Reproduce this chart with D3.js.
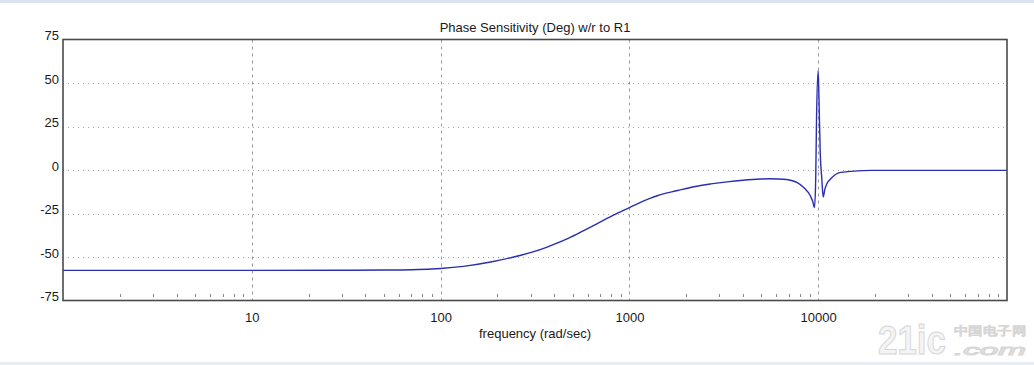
<!DOCTYPE html>
<html>
<head>
<meta charset="utf-8">
<script src="https://cdn.jsdelivr.net/npm/d3@7"></script>
<style>
  html, body { margin: 0; padding: 0; background: #ffffff; }
  svg { display: block; }
  text { font-family: "Liberation Sans", Arial, sans-serif; }
</style>
</head>
<body>
<svg id="chart" width="1034" height="365"></svg>
<script>
// ---- data ----
const freq  = [1, 10, 30, 50, 70, 90, 100, 132, 184, 244, 299, 367, 398, 480, 573, 676, 828, 1000, 1122, 1295, 1403, 1800, 2193, 2700, 3296, 4000, 4947, 5600, 6573, 7300, 7743, 8380, 9080, 9350, 9560, 9700, 9800, 10000, 10100, 10250, 10450, 10630, 10850, 11100, 11620, 13130, 14830, 19400, 100000];
const phase = [-57.7, -57.7, -57.6, -57.5, -57.3, -56.9, -56.6, -55.4, -52.9, -50.0, -47.5, -44.3, -42.8, -39.0, -34.8, -30.8, -25.8, -21.6, -19.0, -16.2, -14.8, -11.8, -9.6, -8.0, -6.8, -5.9, -5.2, -5.0, -5.3, -6.2, -7.2, -10.0, -14.8, -18.0, -21.6, -5.0, 30.0, 57.0, 40.0, 10.0, -5.0, -15.5, -11.0, -8.0, -5.2, -1.4, -0.8, -0.2, -0.2];
const yTicks = [75, 50, 25, 0, -25, -50, -75];
const yGrid  = [50, 25, 0, -25, -50];
const xTicks = [10, 100, 1000, 10000];
const xTickLabels = ["10", "100", "1000", "10000"];
const title = "Phase Sensitivity (Deg) w/r to R1";
const xTitle = "frequency (rad/sec)";

// ---- layout ----
const svg = d3.select("#chart");
const L = 63, R = 1007, T = 39.5, B = 300.5;

const x = d3.scaleLog().domain([1, 100000]).range([L, R]);
const y = d3.scaleLinear().domain([-75, 75]).range([B, T]);

// page frame bands
svg.append("rect").attr("x", 0).attr("y", 0).attr("width", 1034).attr("height", 3).attr("fill", "#dbe4ee");
svg.append("rect").attr("x", 0).attr("y", 362).attr("width", 1034).attr("height", 3).attr("fill", "#e6edf3");

// horizontal dotted grid
svg.append("g").selectAll("line").data(yGrid).join("line")
  .attr("x1", L).attr("x2", R)
  .attr("y1", d => Math.round(y(d)) + 0.5).attr("y2", d => Math.round(y(d)) + 0.5)
  .attr("stroke", "#a0a0a0").attr("stroke-width", 1).attr("stroke-dasharray", "1,4");

// vertical dashed grid
svg.append("g").selectAll("line").data(xTicks).join("line")
  .attr("x1", d => Math.round(x(d)) + 0.5).attr("x2", d => Math.round(x(d)) + 0.5)
  .attr("y1", T).attr("y2", B)
  .attr("stroke", "#999999").attr("stroke-width", 1).attr("stroke-dasharray", "3,4");

// minor ticks (inside, bottom)
const minor = x.ticks().filter(v => Math.abs(Math.log10(v) - Math.round(Math.log10(v))) > 1e-6);
svg.append("g").selectAll("line").data(minor).join("line")
  .attr("x1", d => Math.round(x(d)) + 0.5).attr("x2", d => Math.round(x(d)) + 0.5)
  .attr("y1", B - 6.5).attr("y2", B - 3.5)
  .attr("stroke", "#8a8a8a").attr("stroke-width", 1);

// curve
const line = d3.line().x((d, i) => x(freq[i])).y(d => y(d)).curve(d3.curveMonotoneX);
svg.append("path").datum(phase)
  .attr("d", line)
  .attr("fill", "none")
  .attr("stroke", "#2a2fb0")
  .attr("stroke-width", 1.4)
  .attr("stroke-linejoin", "round");

// frame
svg.append("rect").attr("x", L).attr("y", T).attr("width", R - L).attr("height", B - T)
  .attr("fill", "none").attr("stroke", "#4a4a4a").attr("stroke-width", 1.6);

// y tick labels (baseline at value)
svg.append("g").selectAll("text").data(yTicks).join("text")
  .attr("x", 59).attr("y", d => y(d) + 0.5)
  .attr("text-anchor", "end")
  .attr("font-size", 13).attr("fill", "#1a1a1a")
  .text(d => d);

// x axis labels via d3 axis
const xAxis = d3.axisBottom(x).tickValues(xTicks).tickFormat((d, i) => xTickLabels[i]).tickSize(0).tickPadding(0);
const gx = svg.append("g").attr("transform", `translate(0,${B})`).call(xAxis);
gx.select(".domain").remove();
gx.selectAll("text").attr("font-size", 13).attr("fill", "#1a1a1a")
  .attr("font-family", "Liberation Sans, Arial, sans-serif")
  .attr("dy", null).attr("y", 21);

// titles
svg.append("text").attr("x", (L + R) / 2).attr("y", 32).attr("text-anchor", "middle")
  .attr("font-size", 13).attr("fill", "#1a1a1a").text(title);
svg.append("text").attr("x", (L + R) / 2).attr("y", 337.5).attr("text-anchor", "middle")
  .attr("font-size", 13).attr("fill", "#1a1a1a").text(xTitle);

// faint watermark
const wm = svg.append("g").attr("fill", "#f4f4f4").attr("stroke", "#d6d6d6").attr("stroke-width", 1);
wm.append("text").attr("x", 878).attr("y", 354).attr("font-size", 40).attr("font-weight", "bold")
  .attr("font-family", "Liberation Sans Narrow, Liberation Sans, sans-serif").attr("textLength", 68)
  .attr("lengthAdjust", "spacingAndGlyphs").text("21ic");
wm.append("text").attr("x", 954).attr("y", 335).attr("font-size", 12)
  .attr("font-family", "Noto Sans CJK SC, sans-serif").attr("textLength", 72)
  .attr("lengthAdjust", "spacingAndGlyphs").text("中国电子网");
wm.append("text").attr("x", 954).attr("y", 355).attr("font-size", 15).attr("font-style", "italic")
  .attr("textLength", 72).attr("lengthAdjust", "spacingAndGlyphs").text(".com");
</script>
</body>
</html>
